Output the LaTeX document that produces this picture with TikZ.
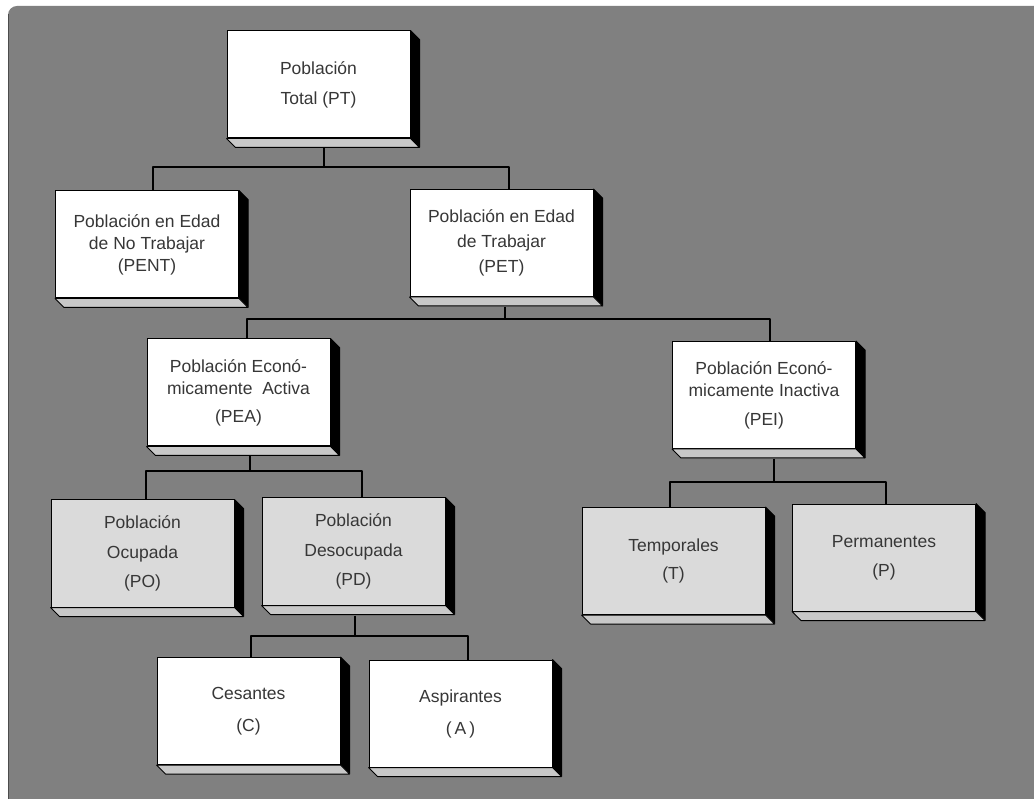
\documentclass[tikz,border=0pt]{standalone}
\usepackage{fontspec}
\setmainfont{Liberation Sans}

\definecolor{panelgray}{RGB}{128,128,128}
\definecolor{boxgray}{RGB}{218,218,218}
\definecolor{slabgray}{RGB}{200,200,200}
\definecolor{textgray}{RGB}{55,55,55}

\tikzset{
  box/.style={draw=black,line width=1pt,fill=white,minimum width=183pt,minimum height=107pt,
    inner sep=0pt,align=center,text=textgray,font=\fontsize{17.5}{22}\selectfont},
  graybox/.style={box,fill=boxgray},
  link/.style={draw=black,line width=2pt},
}

% right face and bottom slab of a box
\newcommand\boxdepth[1]{%
  \filldraw[black,line width=1pt] (#1.north east) -- ++(9,9) -- ([shift={(9,9)}]#1.south east) -- (#1.south east) -- cycle;
  \filldraw[draw=black,fill=slabgray,line width=1pt] (#1.south west) -- ++(9,9) -- ([shift={(9,9)}]#1.south east) -- (#1.south east) -- cycle;}

\begin{document}
\begin{tikzpicture}[x=1pt,y=-1pt,line join=bevel]

\useasboundingbox (0,0) rectangle (1034,799);

% Panel
\fill[panelgray] (8,799) [rounded corners=9pt]-- (8,6) [sharp corners]-- (1034,6) -- (1034,799) -- cycle;
\draw[gray!60!black,line width=1.2pt] (8.6,799) -- (8.6,14);

% Node: PT
\node[box] (pt) at (318.5,84.5) {Población\\[8pt]Total (PT)};
\boxdepth{pt}

% Node: PENT
\node[box] (pent) at (147,244.5) {Población en Edad\\de No Trabajar\\(PENT)};
\boxdepth{pent}

% Node: PET
\node[box] (pet) at (501.5,243) {Población en Edad\\[3pt]de Trabajar\\[3pt](PET)};
\boxdepth{pet}

% Node: PEA
\node[box] (pea) at (238.5,392.5) {Población Econó-\\micamente\ \ Activa\\[6pt](PEA)};
\boxdepth{pea}

% Node: PEI
\node[box] (pei) at (764,395) {Población Econó-\\micamente Inactiva\\[7pt](PEI)};
\boxdepth{pei}

% Node: PO
\node[graybox] (po) at (142.5,553.5) {Población\\[8pt]Ocupada\\[7pt](PO)};
\boxdepth{po}

% Node: PD
\node[graybox] (pd) at (353.5,551.5) {Población\\[8pt]Desocupada\\[7pt](PD)};
\boxdepth{pd}

% Node: T
\node[graybox] (t) at (673.5,561) {Temporales\\[6pt](T)};
\boxdepth{t}

% Node: P
\node[graybox] (p) at (884,557.5) {Permanentes\\[7pt](P)};
\boxdepth{p}

% Node: C
\node[box] (c) at (248.5,711) {Cesantes\\[10pt](C)};
\boxdepth{c}

% Node: A
\node[box] (a) at (460.5,713.5) {Aspirantes\\[10pt](\,A\,)};
\boxdepth{a}

% Edge: PT -> PENT, PET
\draw[link] ([shift={(5.5,10)}]pt.south) -- ++(0,19) coordinate (bus1);
\draw[link] ([xshift=6pt]pent.north) |- (bus1) -| ([xshift=7pt]pet.north);

% Edge: PET -> PEA, PEI
\draw[link] ([shift={(3.5,10)}]pet.south) -- ++(0,12) coordinate (bus2);
\draw[link] ([xshift=8pt]pea.north) |- (bus2) -| ([xshift=6pt]pei.north);

% Edge: PEA -> PO, PD
\draw[link] ([shift={(11.5,10)}]pea.south) -- ++(0,15) coordinate (bus3);
\draw[link] ([xshift=3.5pt]po.north) |- (bus3) -| ([xshift=8.5pt]pd.north);

% Edge: PEI -> T, P
\draw[link] ([shift={(10,10)}]pei.south) -- ++(0,23) coordinate (bus4);
\draw[link] ([xshift=-3.5pt]t.north) |- (bus4) -| ([xshift=2pt]p.north);

% Edge: PD -> C, A
\draw[link] ([shift={(1.5,10)}]pd.south) -- ++(0,20) coordinate (bus5);
\draw[link] ([xshift=2.5pt]c.north) |- (bus5) -| ([xshift=7.5pt]a.north);

\end{tikzpicture}
\end{document}
